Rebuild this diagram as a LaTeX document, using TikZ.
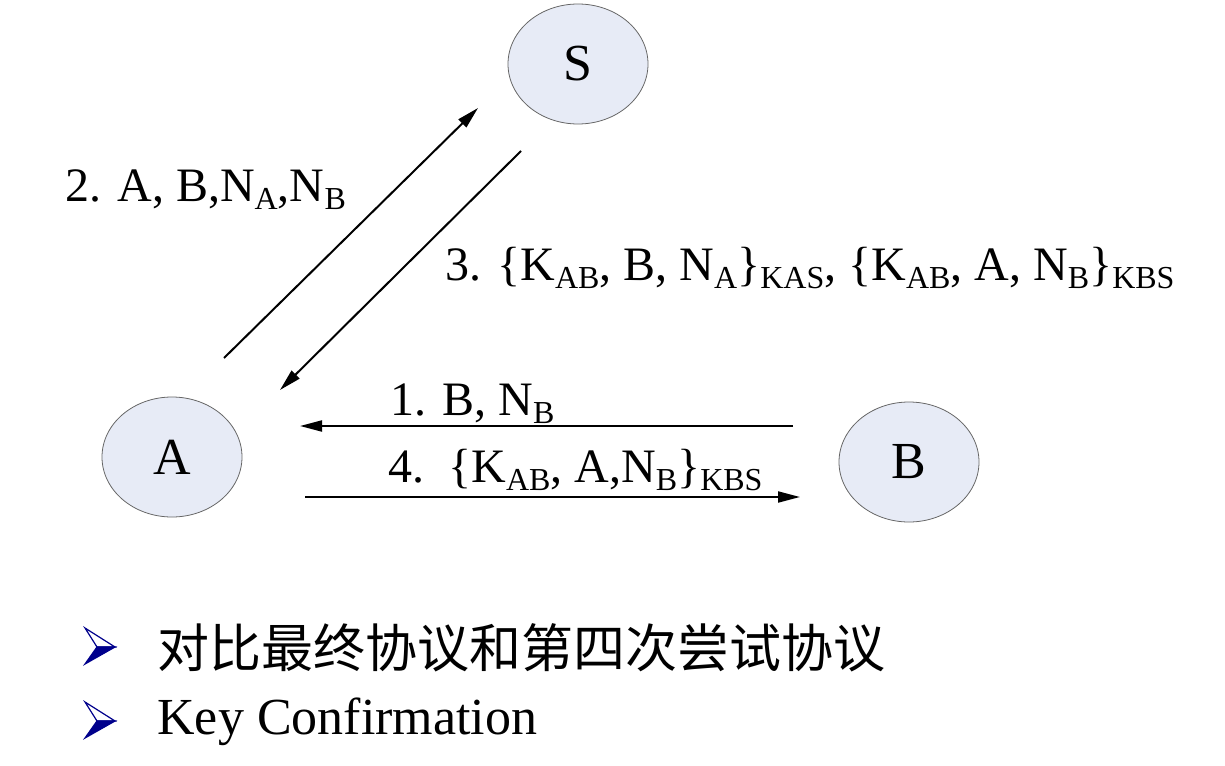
\documentclass[tikz,border=0pt]{standalone}
\usepackage{fontspec}
\setmainfont{Liberation Serif}
\newfontfamily\cjkfont{Noto Sans CJK SC}
\usetikzlibrary{arrows.meta,shapes.geometric}
\definecolor{partyfill}{RGB}{231,235,246}
\definecolor{bulletblue}{RGB}{0,0,140}
\newcommand{\lowsub}[1]{\raisebox{-0.35ex}{\fontsize{16}{16}\selectfont #1}}

\begin{document}
\begin{tikzpicture}[x=0.5pt,y=-0.5pt,
  party/.style={ellipse,draw=black!60,fill=partyfill,minimum width=70pt,
                minimum height=60pt,inner sep=0pt,font=\fontsize{26}{30}\selectfont},
  msg/.style={anchor=west,inner sep=0pt,font=\fontsize{24}{28}\selectfont},
  item/.style={anchor=west,inner sep=0pt,font=\fontsize{26}{31}\selectfont},
  >={Triangle[length=11pt,width=5.5pt]}]
\useasboundingbox (0,0) rectangle (1225,765);
\node[party] (S) at (578,64)  {S};
\node[party] (A) at (172,457) {A};
\node[party] (B) at (909,462) {B};
% arrow ends
\coordinate (as0) at (224,358);
\coordinate (as1) at (478,108);
\coordinate (sa0) at (521,151);
\coordinate (sa1) at (280,390);
\coordinate (ba0) at (793,426);
\coordinate (ba1) at (300,426);
\coordinate (ab0) at (305,497);
\coordinate (ab1) at (800,497);
\draw[->,line width=1pt] (as0) -- (as1);
\draw[->,line width=1pt] (sa0) -- (sa1);
\draw[->,line width=1pt] (ba0) -- (ba1);
\draw[->,line width=1pt] (ab0) -- (ab1);
\node[msg] (m2) at (65,190)  {2. A, B,N\lowsub{A},N\lowsub{B}};
\node[msg] (m3) at (445,268) {3. \{K\lowsub{AB}, B, N\lowsub{A}\}\lowsub{KAS}, \{K\lowsub{AB}, A, N\lowsub{B}\}\lowsub{KBS}};
\node[msg] (m1) at (390,404) {1. B, N\lowsub{B}};
\node[msg] (m4) at (388,470) {4.\ \ \{K\lowsub{AB}, A,N\lowsub{B}\}\lowsub{KBS}};
% bullets
\draw[bulletblue,line width=0.6pt,fill=white] (85,628) -- (115,647) -- (97,647) -- cycle;
\filldraw[bulletblue,line width=0.6pt] (97,647) -- (115,647) -- (85,664) -- cycle;
\draw[bulletblue,line width=0.6pt,fill=white] (85,702) -- (115,721) -- (97,721) -- cycle;
\filldraw[bulletblue,line width=0.6pt] (97,721) -- (115,721) -- (85,738) -- cycle;
\node[item] (cn) at (157,648) {\cjkfont 对比最终协议和第四次尝试协议};
\node[item] (en) at (157,722) {Key Confirmation};
\end{tikzpicture}
\end{document}
